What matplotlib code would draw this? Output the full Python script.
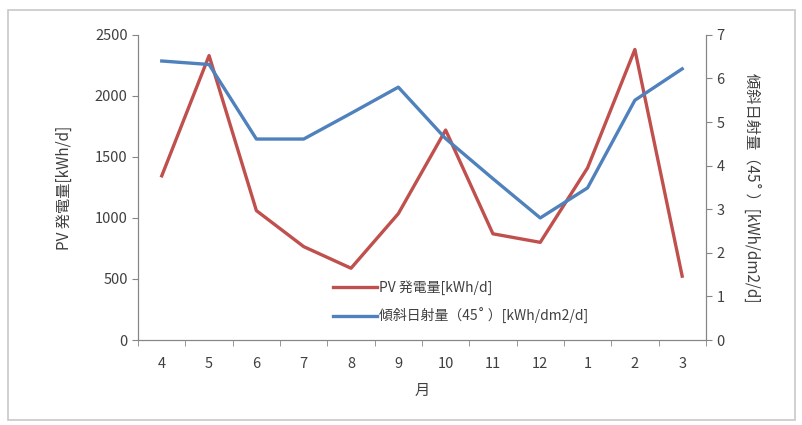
import matplotlib.pyplot as plt
import numpy as np
from matplotlib.patches import Rectangle

plt.rcParams['font.family'] = ['Noto Sans CJK JP', 'DejaVu Sans']

months = ['4', '5', '6', '7', '8', '9', '10', '11', '12', '1', '2', '3']
pv_power = [1345, 2330, 1060, 765, 588, 1035, 1720, 870, 800, 1410, 2380, 523]
tilt_rad = [6.40, 6.32, 4.61, 4.61, 5.20, 5.80, 4.62, 3.70, 2.80, 3.49, 5.50, 6.22]

red = '#C0504D'
blue = '#4F81BD'
grey = '#868686'
txt = '#404040'

fig = plt.figure(figsize=(8.03, 4.25), dpi=100)
fig.patches.append(Rectangle((0.01, 0.012), 0.98, 0.965, transform=fig.transFigure,
                             fill=False, edgecolor='#c8c8c8', linewidth=1.2))

ax = fig.add_axes([0.172, 0.2, 0.707, 0.718])
ax2 = ax.twinx()

x = np.arange(len(months))
l1, = ax.plot(x, pv_power, color=red, lw=2.4, label='PV 発電量[kWh/d]')
l2, = ax2.plot(x, tilt_rad, color=blue, lw=2.4, label='傾斜日射量（45˚ ）[kWh/dm2/d]')

ax.set_xlim(-0.5, len(months) - 0.5)
ax.set_ylim(0, 2500)
ax.set_yticks(np.arange(0, 2501, 500))
ax2.set_ylim(0, 7)
ax2.set_yticks(np.arange(0, 8, 1))

ax.set_xticks(x)
ax.set_xticklabels(months)
ax.set_xticks(np.arange(-0.5, len(months)), minor=True)
ax.tick_params(axis='x', which='major', length=0, pad=12, labelsize=10.5, colors=txt)
ax.tick_params(axis='x', which='minor', length=4, color=grey, direction='out')
ax.tick_params(axis='y', length=4, color=grey, labelsize=10.5, labelcolor=txt)
ax2.tick_params(axis='y', length=4, color=grey, labelsize=10.5, labelcolor=txt)

for a in (ax, ax2):
    a.spines['top'].set_visible(False)
    for s in ('left', 'right', 'bottom'):
        a.spines[s].set_color(grey)

ax.set_xlabel('月', fontsize=11, color=txt, labelpad=8)
ax.set_ylabel('PV 発電量[kWh/d]', fontsize=11, color=txt, labelpad=16)
ax2.set_ylabel('傾斜日射量（45˚ ）[kWh/dm2/d]', fontsize=11, color=txt,
               rotation=270, labelpad=26)

leg = ax.legend(handles=[l1, l2], loc='upper left', bbox_to_anchor=(0.333, 0.215),
                frameon=False, fontsize=10, handlelength=3.2, handletextpad=0.15,
                labelspacing=0.95, borderaxespad=0)
for t in leg.get_texts():
    t.set_color(txt)

fig.savefig('out.png', dpi=100)
